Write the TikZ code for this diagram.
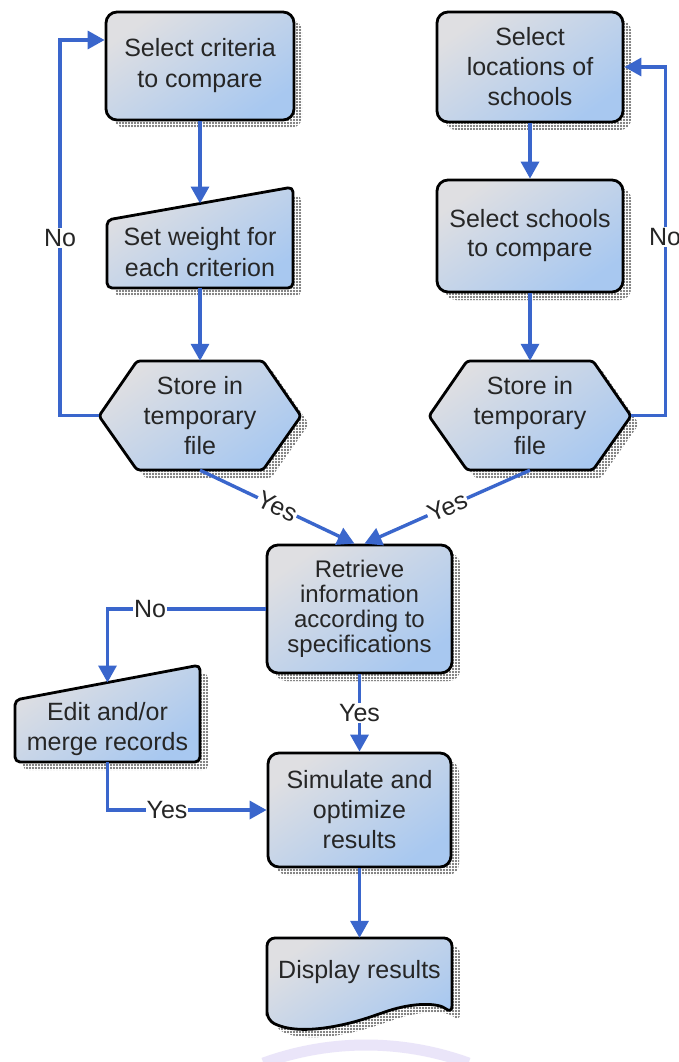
\documentclass[tikz,border=0pt]{standalone}
\usepackage{fontspec}
\setmainfont{Liberation Sans}
\usetikzlibrary{arrows.meta,patterns.meta,calc}
\definecolor{flowblue}{HTML}{3A66CC}
\definecolor{fillA}{HTML}{DFDFE2}
\definecolor{fillB}{HTML}{D2CBF6}
\definecolor{fillC}{HTML}{A8C8F0}
\definecolor{sealtint}{HTML}{D2C6F2}
\begin{document}
\begin{tikzpicture}[x=1pt,y=-1pt,
  shp/.style={draw=black, line width=2.8pt, line join=round,
    top color=fillA, middle color=fillB, bottom color=fillC, shading angle=35,
    preaction={pattern={Dots[distance=3pt,radius=1.05pt]}, pattern color=black!65,
      transform canvas={xshift=8pt,yshift=-8pt}}},
  lbl/.style={align=center, font=\fontsize{25}{31}\selectfont, text=black!85, inner sep=0pt},
  flow/.style={draw=flowblue, line width=3.4pt, -{Triangle[width=18pt,length=17pt]}},
  tag/.style={fill=white, inner sep=1pt, font=\fontsize{25}{28}\selectfont, text=black!85}
]
\useasboundingbox (0,0) rectangle (679,1062);
\fill[white] (0,0) rectangle (679,1062);

% faint seal at the foot of the page
\draw[sealtint, line width=11pt, opacity=0.45] (366,1345) ++(250:300) arc[start angle=250, end angle=290, radius=300];

% ---- left column: criteria ----
\node[shp, lbl, rounded corners=11pt, minimum width=188pt, minimum height=108pt] (crit) at (200,66) {Select criteria\\to compare};

\path[shp, rounded corners=5pt] (107,220) -- (293,187) -- (293,288) -- (107,288) -- cycle;
\node[lbl, minimum width=186pt, minimum height=72pt] (wt) at (200,252) {Set weight for\\each criterion};
\coordinate (wt-in) at (200,203.5);

\path[shp, rounded corners=3pt] (99,416) -- (137,361) -- (263,361) -- (301,416) -- (263,470) -- (137,470) -- cycle;
\node[lbl, minimum width=202pt, minimum height=109pt, font=\fontsize{25}{30}\selectfont] (hl) at (200,415.5) {Store in\\temporary\\file};

% ---- right column: schools ----
\node[shp, lbl, rounded corners=11pt, minimum width=186pt, minimum height=110pt, font=\fontsize{25}{30}\selectfont] (loc) at (530,67) {Select\\locations of\\schools};

\node[shp, lbl, rounded corners=11pt, minimum width=186pt, minimum height=112pt, font=\fontsize{25}{29}\selectfont] (sch) at (530,236) {Select schools\\to compare};

\path[shp, rounded corners=3pt] (429,416) -- (467,361) -- (593,361) -- (631,416) -- (593,470) -- (467,470) -- cycle;
\node[lbl, minimum width=202pt, minimum height=109pt, font=\fontsize{25}{30}\selectfont] (hr) at (530,415.5) {Store in\\temporary\\file};

% ---- merged flow ----
\node[shp, lbl, rounded corners=11pt, minimum width=185pt, minimum height=128pt, font=\fontsize{24}{25}\selectfont] (ret) at (359.5,609) {Retrieve\\information\\according to\\specifications};

\path[shp, rounded corners=5pt] (15,700) -- (200,665) -- (200,762) -- (15,762) -- cycle;
\node[lbl, minimum width=185pt, minimum height=66pt, font=\fontsize{25}{30}\selectfont] (edit) at (107.5,729) {Edit and/or\\merge records};
\coordinate (edit-in) at (107.5,682.5);

\node[shp, lbl, rounded corners=11pt, minimum width=183pt, minimum height=114pt, font=\fontsize{25}{30}\selectfont] (sim) at (359.5,810) {Simulate and\\optimize\\results};

\path[shp, rounded corners=8pt] (267,1020) -- (267,938) -- (452,938) -- (452,1014)
  .. controls (439,1003) and (414,1002) .. (379,1014)
  .. controls (344,1026) and (299,1036) .. (267,1020) -- cycle;
\node[lbl, minimum width=185pt, minimum height=68pt] (disp) at (359.5,972) {Display results};

% ---- connectors ----
\draw[flow] (crit.south) -- (wt-in);
\draw[flow] (wt.south) -- (hl.north);
\draw[flow] (hl.west) -- ++(-39,0) |- ($(crit.west)+(0,-26)$);
\node[tag] at (60,238) {No};

\draw[flow] (loc.south) -- (sch.north);
\draw[flow] (sch.south) -- (hr.north);
\draw[flow] (hr.east) -- ++(34,0) |- (loc.east);
\node[tag] at (665,237) {No};

\draw[flow] (hl.south) -- node[tag, sloped] {Yes} ($(ret.north)+(-5,0)$);
\draw[flow] (hr.south) -- node[tag, sloped] {Yes} ($(ret.north)+(5,0)$);

\draw[flow] (ret.west) -| (edit-in);
\node[tag] at (150,609) {No};

\draw[flow] (ret.south) -- node[tag] {Yes} (sim.north);

\draw[flow] (edit.south) |- (sim.west);
\node[tag] at (167,810) {Yes};

\draw[flow] (sim.south) -- (disp.north);
\end{tikzpicture}
\end{document}
